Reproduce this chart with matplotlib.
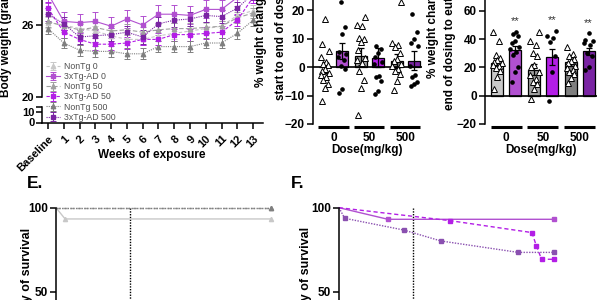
import numpy as np
import matplotlib.pyplot as plt
from matplotlib import transforms

plt.rcParams['font.family'] = ['Liberation Sans', 'DejaVu Sans']
plt.rcParams['font.weight'] = 'bold'
plt.rcParams['axes.labelweight'] = 'bold'
plt.rcParams['axes.linewidth'] = 1.1

W, H = 600, 300

# ---- data ----
weeks = np.arange(14)
week_labels = ['Baseline'] + [str(i) for i in range(1, 14)]
group_names = ['NonTg 0', '3xTg-AD 0', 'NonTg 50', '3xTg-AD 50', 'NonTg 500', '3xTg-AD 500']

bw_nontg0 = [26.2, 26.0, 25.7, 25.5, 25.1, 24.8, 24.8, 25.1, 25.3, 25.5, 25.7, 25.9, 26.8, 27.2]
bw_tg0 = [28.6, 26.3, 26.2, 26.3, 25.9, 26.5, 26.0, 26.9, 26.9, 26.8, 27.3, 27.3, 28.3, 29.0]
bw_nontg50 = [26.3, 25.9, 25.6, 25.8, 25.5, 25.6, 25.4, 25.6, 25.7, 25.7, 25.8, 25.9, 26.6, 27.0]
bw_tg50 = [27.4, 25.4, 24.8, 24.4, 24.4, 24.5, 24.8, 24.8, 25.2, 25.2, 25.3, 25.4, 26.4, 28.3]
bw_nontg500 = [25.7, 24.5, 23.9, 23.8, 23.8, 23.6, 23.6, 24.2, 24.2, 24.2, 24.5, 24.5, 25.3, 26.4]
bw_tg500 = [26.9, 26.1, 25.0, 25.1, 25.2, 25.4, 25.0, 26.1, 26.4, 26.5, 26.8, 26.7, 27.4, 28.6]
bw_sem = [0.45, 0.75, 0.45, 0.5, 0.45, 0.55]

dose_labels = ['0', '50', '500']

# % change start -> end of dosing
dose_mean = [-0.1, 5.8, 3.8, 3.4, 2.2, 2.3]
dose_sem = [1.8, 2.8, 2.9, 3.3, 2.6, 3.3]
dose_pts = [
    [17.1, 8.1, 5.7, 3.6, 1.9, 0.7, 1.2, -0.5, -1.3, -2.0, -2.8, -3.4, -4.6, -6.0, -7.2, -11.9],
    [22.8, 14.0, 11.8, 5.5, 4.5, 3.5, 2.5, 0.5, -0.8, -7.8, -9.2],
    [17.8, 15.0, 14.6, 10.4, 9.8, 9.0, 6.0, 3.4, 2.5, 1.4, -1.2, -4.5, -7.5, -17.0],
    [7.5, 6.5, 5.0, 3.5, 2.0, 1.0, -3.0, -3.5, -5.0, -8.5, -9.5],
    [23.0, 8.4, 7.8, 7.0, 5.0, 3.0, 2.2, 1.2, 0.5, -0.5, -1.5, -2.5, -5.0, -8.2],
    [18.9, 12.5, 9.8, 8.5, 7.5, 0.5, -2.8, -3.5, -5.2, -6.0, -6.5],
]

# % change end of dosing -> euthanasia
euth_mean = [23.3, 32.5, 18.3, 27.5, 24.0, 31.3]
euth_sem = [2.0, 2.6, 3.9, 5.5, 3.3, 2.7]
euth_pts = [
    [45.0, 38.5, 28.5, 26.5, 25.5, 24.0, 23.0, 22.0, 21.0, 19.5, 17.5, 13.0, 5.0],
    [45.0, 43.5, 42.5, 38.5, 37.0, 34.5, 33.0, 31.0, 28.5, 20.5, 17.0, 10.0],
    [45.0, 39.0, 35.5, 30.0, 28.0, 22.0, 20.0, 17.0, 14.5, 12.0, 10.0, 8.0, 5.0, -2.0],
    [46.0, 42.0, 40.5, 38.0, 28.0, 17.0, -4.0],
    [34.5, 29.5, 28.0, 26.0, 24.5, 23.0, 21.0, 19.5, 18.0, 16.5, 15.0, 12.5, 9.0],
    [44.0, 39.5, 38.5, 37.5, 36.0, 30.0, 28.0, 20.0, 18.5],
]
euth_sig = ['', '**', '', '**', '', '**']

# survival (weeks, % alive)
surv_wk_nontg0 = [0, 1.6, 37.8]
surv_nontg0 = [100, 93.3, 93.3]
surv_wk_nontg50 = [0, 37.8]
surv_nontg50 = [100, 100]
surv_wk_nontg500 = [0, 37.8]
surv_nontg500 = [100, 100]
surv_wk_tg0 = [0, 8.6, 37.8]
surv_tg0 = [100, 93.1, 93.1]
surv_wk_tg50 = [0, 19.5, 33.9, 34.7, 35.6, 37.8]
surv_tg50 = [100, 92.3, 85.2, 77.2, 69.3, 69.3]
surv_wk_tg500 = [0, 1.0, 11.4, 17.9, 31.5, 37.8]
surv_tg500 = [100, 93.7, 86.7, 80.2, 73.4, 73.4]

# ---- style ----
colors = ['#c8c8c8', '#b150d0', '#a0a0a0', '#b31ee6', '#7f7f7f', '#7a24a3']
lstyles = [(0, (3, 2)), '-', (0, (4, 2)), (0, (3, 1.5)), (0, (1, 1)), (0, (1, 1))]
markers = ['^', 's', '^', 's', '^', 's']
bar_pos = [0, 1, 2.1, 3.1, 4.2, 5.2]
group_c = [0.5, 2.6, 4.7]


def box(x0, y_top, x1, y_bot):
    return [x0 / W, 1 - y_bot / H, (x1 - x0) / W, (y_bot - y_top) / H]


def clean(ax):
    ax.spines['top'].set_visible(False)
    ax.spines['right'].set_visible(False)
    ax.tick_params(direction='out', length=4.5, width=1.1, labelsize=8.5)


fig = plt.figure(figsize=(6, 3), dpi=100)

# ---- body weight (broken axis) ----
ax_hi = fig.add_axes(box(42, -23, 263, 97))
ax_lo = fig.add_axes(box(42, 107, 263, 122.5))
ax_lo.patch.set_visible(False)
series = [bw_nontg0, bw_tg0, bw_nontg50, bw_tg50, bw_nontg500, bw_tg500]
for i, vals in enumerate(series):
    ax_hi.errorbar(weeks, vals, yerr=bw_sem[i], color=colors[i], ls=lstyles[i], lw=0.8,
                   marker=markers[i], ms=3.2 if markers[i] == '^' else 2.6,
                   capsize=2, elinewidth=0.7, capthick=0.7, label=group_names[i])
for ax in (ax_hi, ax_lo):
    clean(ax)
    ax.set_xlim(-0.38, 13.63)
    ax.tick_params(labelsize=8)
    ax.tick_params(axis='y', pad=1)
ax_hi.set_ylim(20, 30)
ax_hi.set_yticks([20, 26])
ax_hi.spines['bottom'].set_visible(False)
ax_hi.tick_params(axis='x', bottom=False, labelbottom=False)
ax_lo.set_ylim(0, 15)
ax_lo.set_yticks([0, 10, 15])
ax_lo.set_yticklabels(['0', '10', ''])
ax_lo.set_xticks(weeks)
ax_lo.set_xticklabels(week_labels, rotation=45, ha='right', rotation_mode='anchor')

handles, labels = ax_hi.get_legend_handles_labels()
leg = fig.legend(handles, labels, loc='upper left', bbox_to_anchor=(46 / W, 1 - 62 / H),
                 frameon=False, prop={'weight': 'normal', 'size': 6.3}, labelspacing=0.13,
                 handlelength=1.6, handletextpad=0.45, borderpad=0, borderaxespad=0)
for t in leg.get_texts():
    t.set_color('#505050')

fig.text(6 / W, 1 - 97 / H, 'Body weight (grams)', rotation=90, ha='center', va='bottom', fontsize=8.5)
fig.text(152 / W, 1 - 155 / H, 'Weeks of exposure', ha='center', va='center', fontsize=8.5)


# ---- bar panels ----
def spread(vals):
    order = np.argsort(vals)
    offs = np.zeros(len(vals))
    pattern = [-0.18, 0.0, 0.18, -0.09, 0.09, -0.25, 0.25]
    for k, idx in enumerate(order):
        offs[idx] = pattern[k % len(pattern)]
    return offs


def bar_panel(ax, means, sems, pts, ylim, yticks):
    clean(ax)
    ax.spines['bottom'].set_visible(False)
    for i in range(6):
        ax.bar(bar_pos[i], means[i], width=0.68, color=colors[i], edgecolor='black', lw=0.9, zorder=2)
        ax.errorbar(bar_pos[i], means[i], yerr=sems[i], color='black', capsize=2.2,
                    elinewidth=0.9, capthick=0.9, zorder=4)
        v = np.array(pts[i])
        x = bar_pos[i] + spread(v)
        if markers[i] == '^':
            ax.plot(x, v, '^', ms=4.2, mfc='white', mec='black', mew=0.7, ls='none', zorder=5, clip_on=False)
        else:
            ax.plot(x, v, 'o', ms=2.3, color='black', ls='none', zorder=5, clip_on=False)
    ax.axhline(0, color='black', lw=1.2, zorder=3)
    ax.set_xlim(-0.7, 5.68)
    ax.set_ylim(*ylim)
    ax.set_yticks(yticks)
    ax.tick_params(axis='y', pad=1.5)
    trans = transforms.offset_copy(ax.get_xaxis_transform(), fig=fig, y=-2.5, units='dots')
    for c in group_c:
        ax.plot([c - 0.88, c + 0.88], [0, 0], transform=trans, color='black', lw=2.2,
                clip_on=False, solid_capstyle='butt')
    ax.set_xticks(group_c)
    ax.set_xticklabels(dose_labels)
    ax.tick_params(axis='x', length=0, pad=6)
    ax.set_xlabel('Dose(mg/kg)', fontsize=8.5, labelpad=0)


ax_d = fig.add_axes(box(313, -18, 422, 124))
bar_panel(ax_d, dose_mean, dose_sem, dose_pts, (-20, 30), [-20, -10, 0, 10, 20])
fig.text(261 / W, 1 - 87 / H, '% weight change from the', rotation=90, ha='center', va='bottom', fontsize=8.5)
fig.text(281 / W, 1 - 100 / H, 'start to end of dosing', rotation=90, ha='center', va='bottom', fontsize=8.5)

ax_e = fig.add_axes(box(485, -17.5, 597, 124))
bar_panel(ax_e, euth_mean, euth_sem, euth_pts, (-20, 80), [-20, 0, 20, 40, 60])
for i, s in enumerate(euth_sig):
    if s:
        ax_e.text(bar_pos[i], max(euth_pts[i]) + 7.5, s, ha='center', va='center',
                  fontsize=8, weight='normal', color='#303030')
fig.text(433 / W, 1 - 78 / H, '% weight change from the end of', rotation=90, ha='center', va='bottom', fontsize=8.5)
fig.text(450 / W, 1 - 110 / H, 'end of dosing to euthanasia', rotation=90, ha='center', va='bottom', fontsize=8.5)


# ---- survival panels ----
def surv_panel(ax, curves):
    clean(ax)
    ax.set_xlim(0, 40)
    ax.set_ylim(0, 100)
    ax.set_yticks([0, 50, 100])
    ax.tick_params(axis='y', pad=1.5)
    ax.tick_params(axis='x', labelbottom=False)
    ax.axvline(13, color='black', ls=(0, (1, 1)), lw=1.0)
    for wk, s, c, ls, m in curves:
        ax.plot(wk, s, color=c, ls=ls, lw=1.0, marker=m, ms=3.0 if m == '^' else 2.4,
                markevery=slice(1, None), clip_on=False)


ax_s1 = fig.add_axes(box(56, 207.7, 56 + 40 * 5.69, 375.7))
surv_panel(ax_s1, [
    (surv_wk_nontg0, surv_nontg0, colors[0], '-', '^'),
    (surv_wk_nontg50, surv_nontg50, colors[2], (0, (3, 2)), '^'),
    (surv_wk_nontg500, surv_nontg500, colors[4], (0, (1, 1)), '^'),
])
ax_s2 = fig.add_axes(box(339, 207.7, 339 + 40 * 5.69, 375.7))
surv_panel(ax_s2, [
    (surv_wk_tg0, surv_tg0, colors[1], '-', 's'),
    (surv_wk_tg50, surv_tg50, colors[3], (0, (3, 2)), 's'),
    (surv_wk_tg500, surv_tg500, '#8a50b0', (0, (1, 1)), 's'),
])
fig.text(27 / W, 1 - 183 / H, 'E.', fontsize=12.5, va='center', ha='left')
fig.text(291 / W, 1 - 183 / H, 'F.', fontsize=12.5, va='center', ha='left')
fig.text(27 / W, 1 - 228 / H, 'Probability of survival', rotation=90, ha='center', va='top', fontsize=9)
fig.text(306 / W, 1 - 227 / H, 'Probability of survival', rotation=90, ha='center', va='top', fontsize=9)

fig.savefig('out.png', dpi=100)
